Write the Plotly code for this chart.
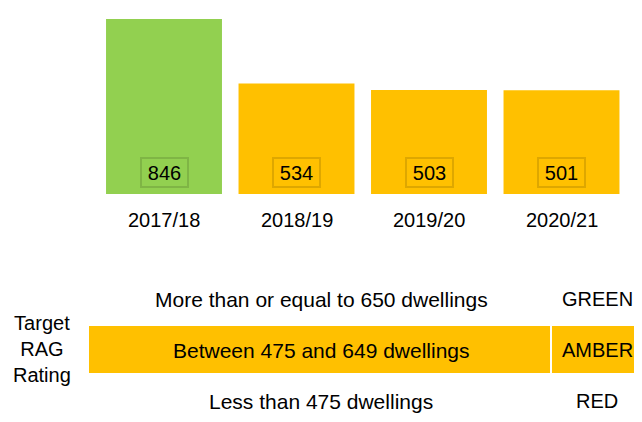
import plotly.graph_objects as go

# Dwellings delivered per year
years = ["2017/18", "2018/19", "2019/20", "2020/21"]
dwellings = [846, 534, 503, 501]

# RAG target bands
rag_names = ["GREEN", "AMBER", "RED"]
rag_text = ["More than or equal to 650 dwellings",
            "Between 475 and 649 dwellings",
            "Less than 475 dwellings"]
green_min = 650
amber_min = 475

GREEN = "#92D050"
AMBER = "#FFC000"
RED = "#FF0000"
FONT = "Arial, Liberation Sans, sans-serif"

# the page body adds an 8px margin, so the figure is sized to fill the rest
OFF = 8
W, H = 642 - OFF, 422 - OFF


def rag_colour(v):
    if v >= green_min:
        return GREEN
    if v >= amber_min:
        return AMBER
    return RED


def px_(x):
    # window pixel column -> paper x
    return (x - OFF) / W


def py(y):
    # window pixel row -> paper y
    return (H - (y - OFF)) / H


colours = [rag_colour(v) for v in dwellings]

fig = go.Figure()
fig.add_trace(go.Bar(x=years, y=dwellings, marker=dict(color=colours, line=dict(width=0)),
                     hoverinfo="x+y"))

# value boxes at the foot of each bar
for yr, v, c in zip(years, dwellings, colours):
    fig.add_annotation(x=yr, y=0, xref="x", yref="y", text=str(v), showarrow=False,
                       yanchor="bottom", yshift=6, width=41, height=23,
                       bgcolor=c, bordercolor="rgba(0,0,0,0.13)", borderwidth=2, borderpad=2,
                       font=dict(family=FONT, size=20, color="#000000"))
    # category label under the bar
    fig.add_annotation(x=yr, y=0, xref="x", yref="y", text=yr, showarrow=False,
                       yanchor="middle", yshift=-25.5,
                       font=dict(family=FONT, size=20, color="#000000"))

# target band
fig.add_shape(type="rect", xref="paper", yref="paper", x0=px_(89), x1=px_(550),
              y0=py(373), y1=py(326), fillcolor=AMBER, line=dict(width=0), layer="below")
fig.add_shape(type="rect", xref="paper", yref="paper", x0=px_(552), x1=1,
              y0=py(373), y1=py(326), fillcolor=AMBER, line=dict(width=0), layer="below")

row_y = [299, 350, 401]
for name, txt, ry in zip(rag_names, rag_text, row_y):
    fig.add_annotation(x=px_(321), y=py(ry), xref="paper", yref="paper", text=txt,
                       showarrow=False, xanchor="center", yanchor="middle",
                       font=dict(family=FONT, size=21, color="#000000"))
    fig.add_annotation(x=px_(597), y=py(ry), xref="paper", yref="paper", text=name,
                       showarrow=False, xanchor="center", yanchor="middle",
                       font=dict(family=FONT, size=20, color="#000000"))

fig.add_annotation(x=px_(42), y=py(349), xref="paper", yref="paper",
                   text="Target<br>RAG<br>Rating", showarrow=False,
                   xanchor="center", yanchor="middle", align="center",
                   font=dict(family=FONT, size=20, color="#000000"))

fig.update_layout(
    width=W, height=H,
    margin=dict(l=0, r=0, t=0, b=0),
    paper_bgcolor="white", plot_bgcolor="white",
    showlegend=False, bargap=0.125,
    xaxis=dict(domain=[px_(97.75), px_(627.75)], showticklabels=False, showgrid=False,
               zeroline=False, showline=False, ticks=""),
    yaxis=dict(domain=[py(194), py(OFF)], range=[0, (194 - OFF) / (175 / 846)], visible=False),
)

fig.write_html("out.html")
